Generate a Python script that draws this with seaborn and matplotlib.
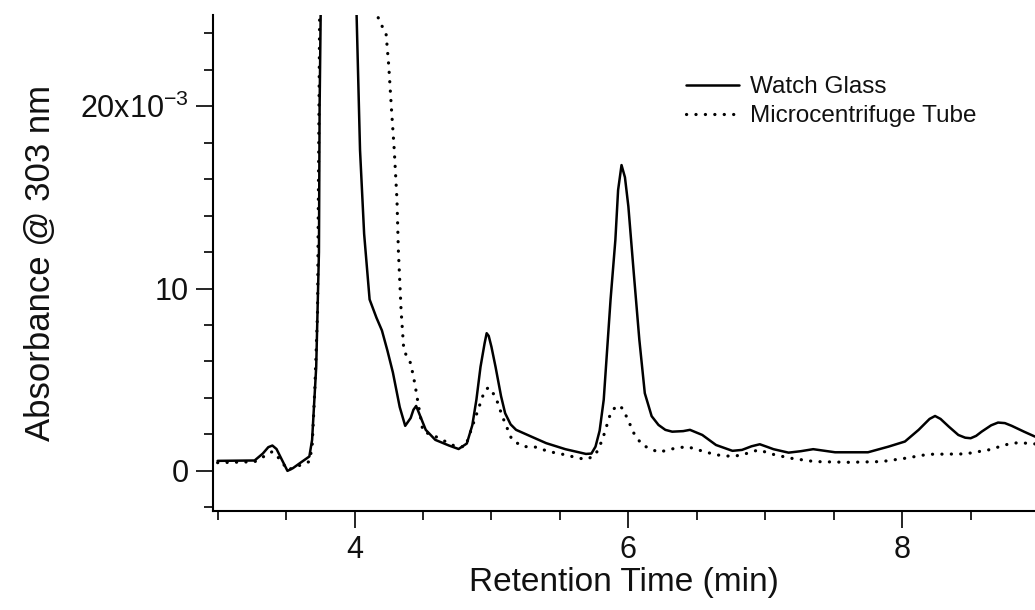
import matplotlib
matplotlib.use("Agg")
import matplotlib.pyplot as plt
import seaborn as sns
import pandas as pd
from matplotlib.ticker import MultipleLocator, FixedLocator, FixedFormatter
from matplotlib.lines import Line2D

# ---------------- data (absorbance in units of 10^-3) ----------------
wg_time = [3.00, 3.27, 3.33, 3.37, 3.40, 3.43, 3.47, 3.51, 3.55, 3.60, 3.67, 3.69,
           3.72, 3.74, 3.745, 3.76, 3.85, 3.95, 4.00, 4.015, 4.04, 4.07, 4.11, 4.16,
           4.20, 4.24, 4.28, 4.33, 4.37, 4.41, 4.43, 4.45, 4.48, 4.52, 4.59, 4.69,
           4.76, 4.82, 4.86, 4.89, 4.92, 4.95, 4.965, 4.98, 5.00, 5.03, 5.07, 5.10,
           5.14, 5.18, 5.24, 5.30, 5.40, 5.54, 5.69, 5.73, 5.76, 5.79, 5.82, 5.87,
           5.905, 5.925, 5.95, 5.975, 6.00, 6.04, 6.08, 6.12, 6.17, 6.22, 6.27, 6.32,
           6.40, 6.45, 6.54, 6.64, 6.76, 6.83, 6.90, 6.96, 7.02, 7.06, 7.17, 7.26,
           7.35, 7.51, 7.75, 7.90, 8.02, 8.12, 8.20, 8.24, 8.28, 8.34, 8.41, 8.46,
           8.50, 8.54, 8.58, 8.65, 8.70, 8.75, 8.80, 8.89, 8.97]
wg_abs = [0.55, 0.57, 0.95, 1.30, 1.39, 1.20, 0.60, 0.00, 0.15, 0.42, 0.79, 1.70,
          5.70, 12.0, 20.0, 30.0, 45.0, 40.0, 30.0, 25.0, 17.6, 13.0, 9.4, 8.4,
          7.7, 6.6, 5.4, 3.5, 2.47, 2.9, 3.35, 3.56, 3.0, 2.25, 1.70, 1.39,
          1.20, 1.50, 2.50, 3.90, 5.70, 7.00, 7.55, 7.40, 6.80, 5.70, 4.10, 3.16,
          2.55, 2.25, 2.05, 1.85, 1.52, 1.19, 0.93, 0.95, 1.33, 2.20, 3.90, 9.40,
          12.66, 15.4, 16.77, 16.1, 14.5, 10.8, 7.20, 4.26, 3.00, 2.52, 2.25, 2.15,
          2.18, 2.25, 1.97, 1.42, 1.10, 1.15, 1.35, 1.46, 1.30, 1.19, 1.00, 1.08,
          1.19, 1.02, 1.02, 1.33, 1.61, 2.25, 2.85, 3.01, 2.85, 2.43, 1.97, 1.82,
          1.79, 1.92, 2.15, 2.50, 2.65, 2.62, 2.47, 2.15, 1.88]

mt_time = [3.00, 3.27, 3.34, 3.40, 3.46, 3.51, 3.61, 3.67, 3.69, 3.71, 3.73, 3.745,
           3.76, 3.90, 4.05, 4.12, 4.17, 4.20, 4.23, 4.25, 4.27, 4.29, 4.31, 4.32,
           4.34, 4.36, 4.41, 4.44, 4.46, 4.50, 4.57, 4.64, 4.74, 4.81, 4.86, 4.91,
           4.95, 4.98, 5.03, 5.08, 5.15, 5.23, 5.31, 5.42, 5.54, 5.64, 5.70, 5.76,
           5.81, 5.87, 5.90, 5.93, 5.96, 6.00, 6.04, 6.10, 6.22, 6.34, 6.43, 6.51,
           6.64, 6.76, 6.83, 6.95, 7.07, 7.19, 7.36, 7.61, 7.85, 8.02, 8.19, 8.46,
           8.63, 8.78, 8.85, 8.97]
mt_abs = [0.45, 0.50, 0.80, 1.06, 0.60, 0.05, 0.33, 0.51, 1.30, 4.50, 8.80, 25.0,
          32.0, 50.0, 40.0, 30.0, 24.9, 24.4, 24.0, 22.2, 19.8, 17.6, 14.85, 12.1,
          8.80, 6.60, 5.90, 4.80, 3.90, 2.15, 1.97, 1.70, 1.33, 1.33, 2.43, 3.52,
          4.40, 4.58, 4.07, 2.98, 1.70, 1.33, 1.33, 1.06, 0.88, 0.69, 0.64, 0.88,
          1.70, 3.16, 3.45, 3.60, 3.40, 2.75, 2.07, 1.42, 1.02, 1.24, 1.33, 1.15,
          0.88, 0.79, 0.88, 1.15, 0.88, 0.69, 0.51, 0.47, 0.51, 0.69, 0.91, 0.93,
          1.15, 1.48, 1.55, 1.48]

series_names = ["Watch Glass", "Microcentrifuge Tube"]
x_tick_values = [4, 6, 8]
y_tick_values = [0, 10, 20]
y_tick_labels = ["0", "10", r"20x10$^{\mathregular{-3}}$"]
x_label = "Retention Time (min)"
y_label = "Absorbance @ 303 nm"

# ---------------- style ----------------
sns.set_theme(style="ticks")
plt.rcParams["font.family"] = ["Liberation Sans", "DejaVu Sans"]
plt.rcParams["mathtext.fontset"] = "custom"
plt.rcParams["mathtext.rm"] = "Liberation Sans"

W, H = 1035, 610
fig = plt.figure(figsize=(W / 100, H / 100), dpi=100)
ax = fig.add_axes([212.7 / W, (H - 511) / H, (W - 212.7) / W, (511 - 15) / H])

df_wg = pd.DataFrame({"time": wg_time, "abs": wg_abs})
df_mt = pd.DataFrame({"time": mt_time, "abs": mt_abs})

solid_lw = 1.8
dot_lw = 2.3
dot_style = (0, (0.05, 2.9))

sns.lineplot(data=df_wg, x="time", y="abs", ax=ax, sort=False, estimator=None,
             color="black", linewidth=solid_lw, solid_joinstyle="round")
sns.lineplot(data=df_mt, x="time", y="abs", ax=ax, sort=False, estimator=None,
             color="black", linewidth=dot_lw, linestyle=dot_style,
             dash_capstyle="round")

ax.set_xlim(2.964, 8.97)
ax.set_ylim(-2.2, 25.0)

ax.xaxis.set_major_locator(FixedLocator(x_tick_values))
ax.xaxis.set_minor_locator(MultipleLocator(0.5))
ax.yaxis.set_major_locator(FixedLocator(y_tick_values))
ax.yaxis.set_major_formatter(FixedFormatter(y_tick_labels))
ax.yaxis.set_minor_locator(MultipleLocator(2))

ax.tick_params(axis="both", which="major", direction="out", length=12.5,
               width=1.2, color="black", labelsize=22, labelcolor="#111111", pad=5)
ax.tick_params(axis="both", which="minor", direction="out", length=6.5,
               width=1.2, color="black")

for side in ["top", "right"]:
    ax.spines[side].set_visible(False)
for side in ["left", "bottom"]:
    ax.spines[side].set_linewidth(1.5)
    ax.spines[side].set_color("black")

ax.set_xlabel(x_label, fontsize=24, color="#111111", labelpad=1)
ax.set_ylabel(y_label, fontsize=25, color="#111111", labelpad=16)

handles = [Line2D([0], [0], color="black", linewidth=solid_lw),
           Line2D([0], [0], color="black", linewidth=dot_lw,
                  linestyle=dot_style, dash_capstyle="round")]
leg = fig.legend(handles, series_names, loc="upper left",
                 bbox_to_anchor=(686 / W, (H - 76) / H), frameon=False,
                 fontsize=17.5, handlelength=2.2, handletextpad=0.45,
                 labelspacing=0.3, borderpad=0, borderaxespad=0)
for t in leg.get_texts():
    t.set_color("#111111")

fig.savefig("out.png", dpi=100)
